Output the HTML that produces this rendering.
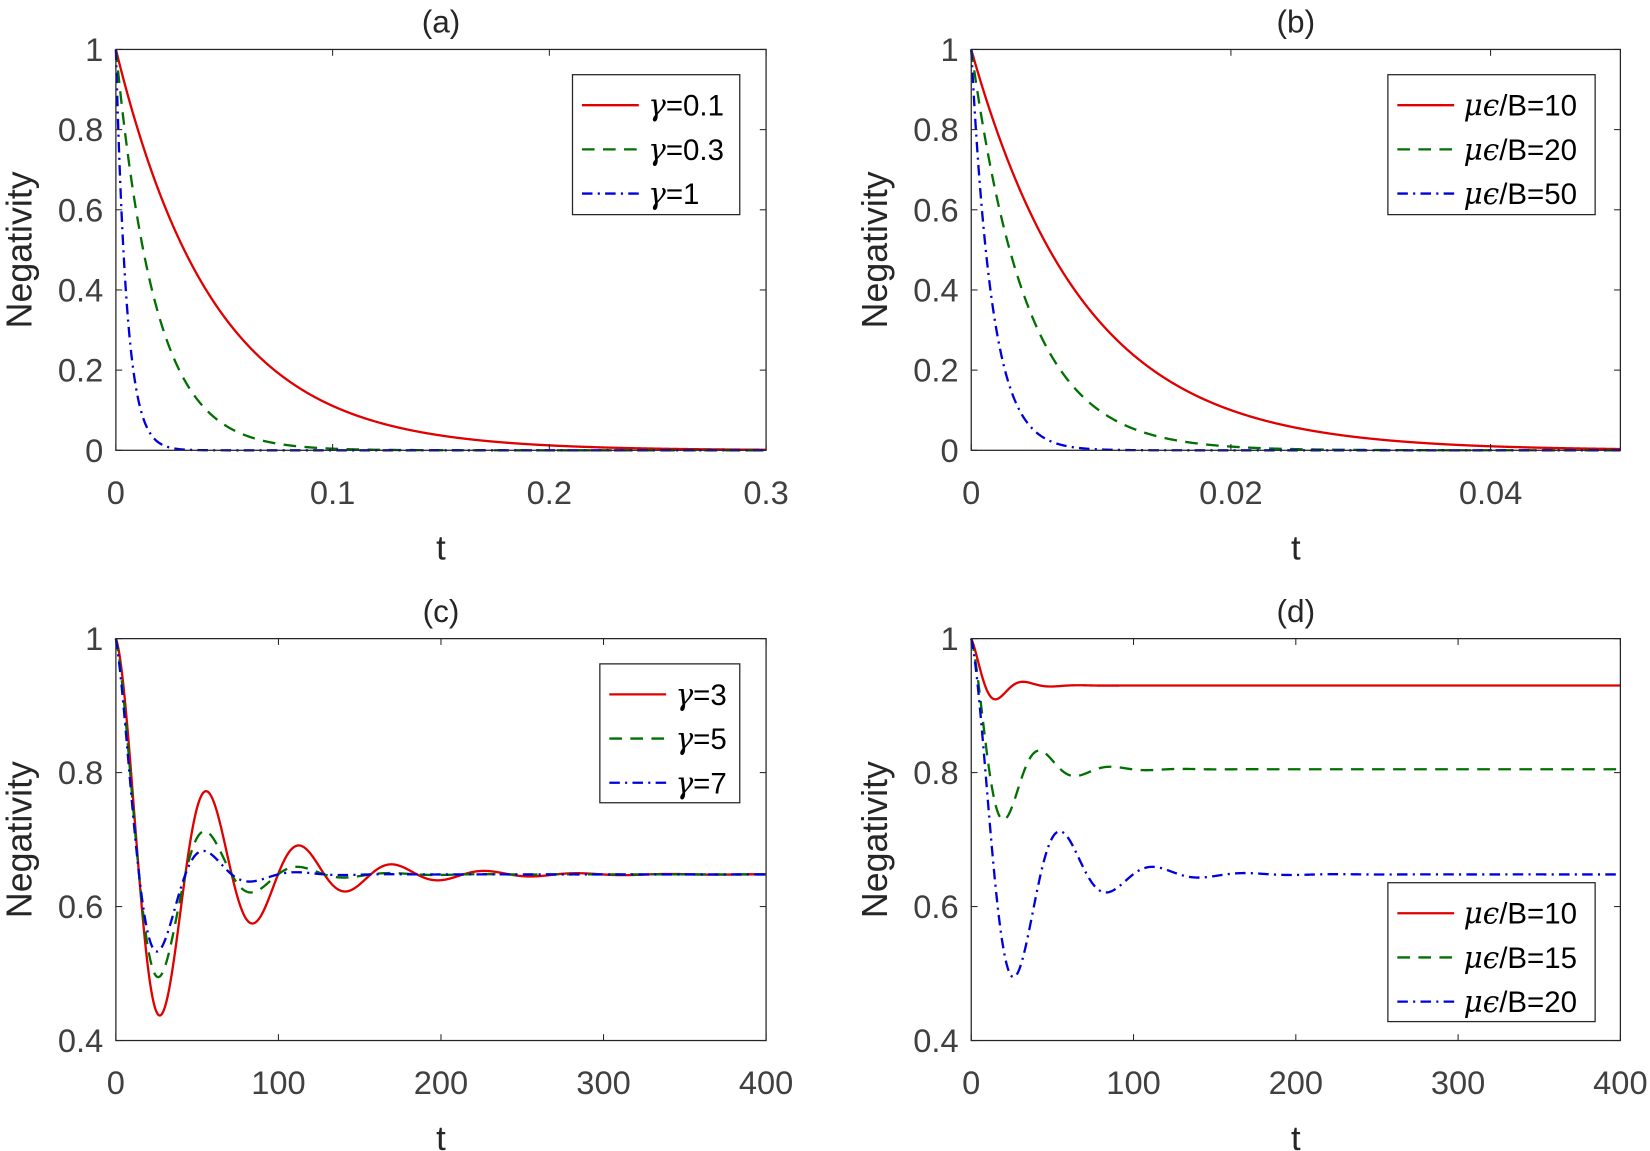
<!DOCTYPE html>
<html><head><meta charset="utf-8"><style>
html,body{margin:0;padding:0;background:#fff;}
svg{display:block;}
text{font-family:"Liberation Sans","DejaVu Sans",sans-serif;}
</style></head><body>
<svg id="s" width="1650" height="1151" viewBox="0 0 1568 1094" xmlns="http://www.w3.org/2000/svg"></svg>
<script>
const S=document.getElementById('s');let h='';
function ax(o){
 const {x0,x1,y0,y1,xmin,xmax,ymin,ymax,xt,yt,xl,yl,title,curves,leg}=o;
 const X=v=>x0+(v-xmin)/(xmax-xmin)*(x1-x0), Y=v=>y1-(v-ymin)/(ymax-ymin)*(y1-y0);
 h+=`<rect x="${x0}" y="${y0}" width="${x1-x0}" height="${y1-y0}" fill="#fff"/>`;
 for(const c of curves){
  let d='';const N=1500;
  for(let i=0;i<=N;i++){const t=xmin+(xmax-xmin)*i/N;let v=c.f(t);v=Math.max(ymin,Math.min(ymax,v));d+=(i?'L':'M')+X(t).toFixed(2)+','+Y(v).toFixed(2);}
  h+=`<path d="${d}" fill="none" stroke="${c.col}" stroke-width="2.2" ${c.dash?'stroke-dasharray="'+c.dash+'"':''}/>`;
 }
 h+=`<rect x="${x0}" y="${y0}" width="${x1-x0}" height="${y1-y0}" fill="none" stroke="#262626" stroke-width="1.2"/>`;
 xt.forEach((v,i)=>{const x=X(v);h+=`<line x1="${x}" y1="${y1}" x2="${x}" y2="${y1-6}" stroke="#262626"/><line x1="${x}" y1="${y0}" x2="${x}" y2="${y0+6}" stroke="#262626"/><text x="${x}" y="${y1+51}" font-size="31" fill="#404040" text-anchor="middle">${xl[i]}</text>`;});
 yt.forEach((v,i)=>{const y=Y(v);h+=`<line x1="${x0}" y1="${y}" x2="${x0+6}" y2="${y}" stroke="#262626"/><line x1="${x1}" y1="${y}" x2="${x1-6}" y2="${y}" stroke="#262626"/><text x="${x0-12}" y="${y+11}" font-size="31" fill="#404040" text-anchor="end">${yl[i]}</text>`;});
 const cx=(x0+x1)/2;
 h+=`<text x="${cx}" y="${y0-16}" font-size="30" fill="#262626" text-anchor="middle">${title}</text>`;
 h+=`<text x="${cx}" y="${y1+104}" font-size="33" fill="#262626" text-anchor="middle">t</text>`;
 const cy=(y0+y1)/2;
 h+=`<text transform="translate(${x0-80},${cy}) rotate(-90)" font-size="34" fill="#262626" text-anchor="middle">Negativity</text>`;
 const L=leg;h+=`<rect x="${L.x}" y="${L.y}" width="${L.w}" height="${L.h}" fill="#fff" stroke="#262626" stroke-width="1.2"/>`;
 L.items.forEach((it,i)=>{const y=L.y+29+i*42;const c=curves[i];
  h+=`<line x1="${L.x+9}" y1="${y}" x2="${L.x+63}" y2="${y}" stroke="${c.col}" stroke-width="2.2" ${c.dash?'stroke-dasharray="'+c.dash+'"':''}/>`;
  h+=`<text x="${L.x+72}" y="${y+10}" font-size="28" fill="#000">${it}</text>`;});
}
const R='#e00000',G='#007000',B='#0000dd',GD='12,8',BD='10,5,2,5';
const ex=k=>t=>Math.exp(-k*t);
const osc=(c,tau,P)=>t=>c+(1-c)*Math.exp(-t/tau)*Math.cos(2*Math.PI*t/P);
const g='<tspan font-family="DejaVu Serif,serif" font-style="italic">γ</tspan>';
const mu='<tspan font-family="DejaVu Serif,serif" font-style="italic">μϵ</tspan>';
const y01=[0,0.2,0.4,0.6,0.8,1],y01l=['0','0.2','0.4','0.6','0.8','1'];
ax({x0:110,x1:728,y0:47,y1:428,xmin:0,xmax:0.3,ymin:0,ymax:1,xt:[0,0.1,0.2,0.3],xl:['0','0.1','0.2','0.3'],yt:y01,yl:y01l,title:'(a)',
 curves:[{f:ex(22),col:R},{f:ex(55),col:G,dash:GD},{f:ex(200),col:B,dash:BD}],
 leg:{x:544,y:71,w:159,h:133,items:[g+'=0.1',g+'=0.3',g+'=1']}});
ax({x0:923,x1:1540,y0:47,y1:428,xmin:0,xmax:0.05,ymin:0,ymax:1,xt:[0,0.02,0.04],xl:['0','0.02','0.04'],yt:y01,yl:y01l,title:'(b)',
 curves:[{f:ex(115),col:R},{f:ex(234),col:G,dash:GD},{f:ex(620),col:B,dash:BD}],
 leg:{x:1319,y:71,w:197,h:133,items:[mu+'/B=10',mu+'/B=20',mu+'/B=50']}});
const y2=[0.4,0.6,0.8,1],y2l=['0.4','0.6','0.8','1'];
ax({x0:110,x1:728,y0:607,y1:989,xmin:0,xmax:400,ymin:0.4,ymax:1,xt:[0,100,200,300,400],xl:['0','100','200','300','400'],yt:y2,yl:y2l,title:'(c)',
 curves:[{f:osc(0.648,54,57),col:R},{f:osc(0.648,32.8,57),col:G,dash:GD},{f:osc(0.648,24,57),col:B,dash:BD}],
 leg:{x:570,y:631,w:133,h:132,items:[g+'=3',g+'=5',g+'=7']}});
ax({x0:923,x1:1540,y0:607,y1:989,xmin:0,xmax:400,ymin:0.4,ymax:1,xt:[0,100,200,300,400],xl:['0','100','200','300','400'],yt:y2,yl:y2l,title:'(d)',
 curves:[{f:osc(0.93,13,34),col:R},{f:osc(0.805,22,44),col:G,dash:GD},{f:osc(0.648,32.8,57),col:B,dash:BD}],
 leg:{x:1319,y:839,w:197,h:132,items:[mu+'/B=10',mu+'/B=15',mu+'/B=20']}});
S.innerHTML=h;
</script>
</body></html>
